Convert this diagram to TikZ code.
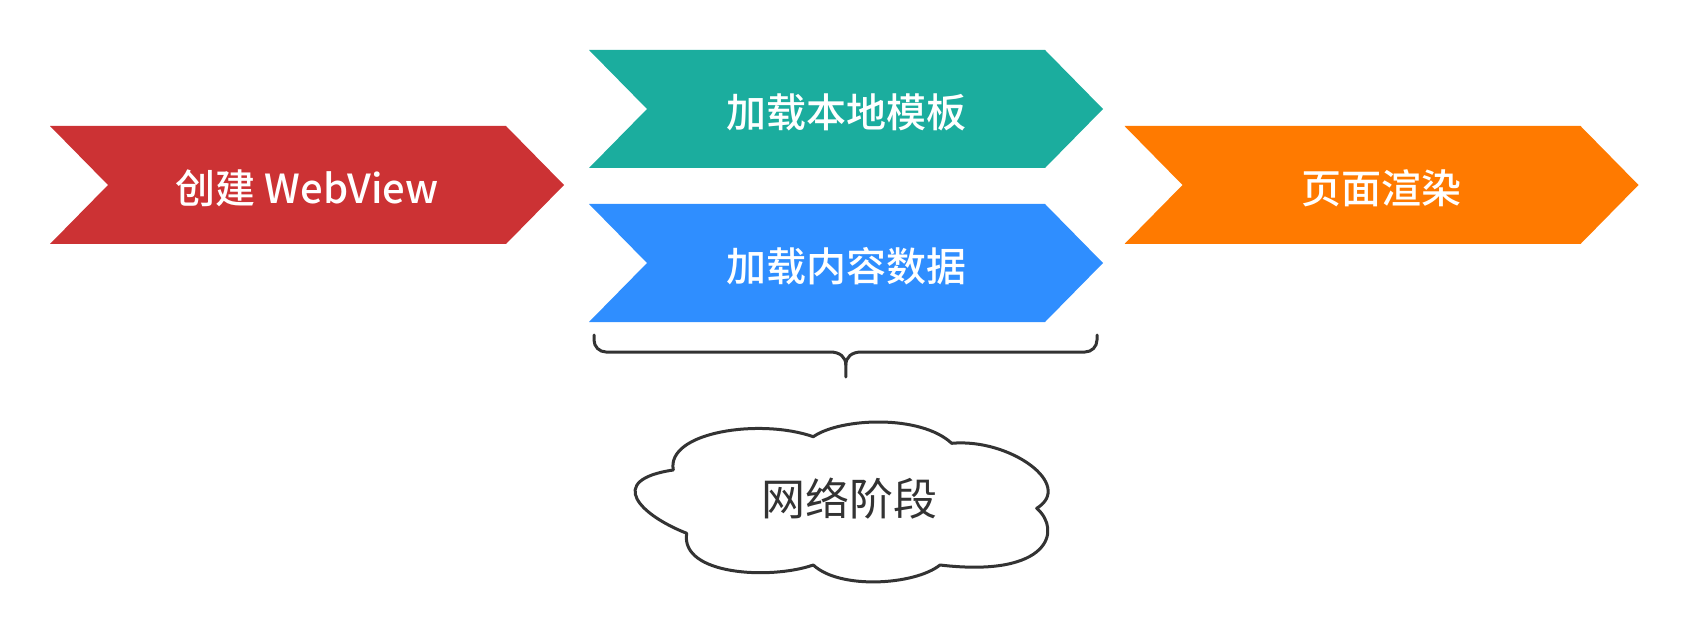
\documentclass[tikz,border=0pt]{standalone}
\usepackage{fontspec}
\newfontfamily\cjk{Noto Sans CJK SC}
\newfontfamily\cjkmed{Noto Sans CJK SC Medium}
\definecolor{cred}{HTML}{CC3234}
\definecolor{cteal}{HTML}{1BAD9E}
\definecolor{cblue}{HTML}{2F8EFF}
\definecolor{corange}{HTML}{FF7A00}
\definecolor{cdark}{HTML}{333333}
\tikzset{
  chevtext/.style={text=white, font=\cjkmed\fontsize{40}{48}\selectfont, inner sep=0pt},
  outline/.style={draw=cdark, line width=3pt, line join=round, line cap=round},
  cloudtext/.style={text=cdark, font=\cjk\fontsize{44}{52}\selectfont, inner sep=0pt}
}
\newcommand{\chevron}[3]{%
  \fill[#3] (#1,#2) -- ++(456,0) -- ++(58,59) -- ++(-58,59) -- ++(-456,0) -- ++(58,-59) -- cycle;}
\begin{document}
\begin{tikzpicture}[x=1pt,y=-1pt]
\useasboundingbox (0,0) rectangle (1690,631);
% chevrons
\chevron{50}{126}{cred}
\chevron{589}{50}{cteal}
\chevron{589}{204}{cblue}
\chevron{1124.5}{126}{corange}
\node[chevtext] (create) at (307,188) {创建 WebView};
\node[chevtext] (tpl) at (846,112) {加载本地模板};
\node[chevtext] (data) at (846,266) {加载内容数据};
\node[chevtext] (render) at (1381.5,188) {页面渲染};
% brace
\draw[outline] (594,335) -- (594,340) arc[start angle=180,end angle=90,radius=12] -- (830,352)
  .. controls (840,352) and (845.8,357) .. (845.8,365) -- (845.8,377);
\draw[outline] (1097,335) -- (1097,340) arc[start angle=0,end angle=90,radius=12] -- (861.6,352)
  .. controls (851.6,352) and (845.8,357) .. (845.8,365);
% cloud
\draw[outline, fill=white] (673.3,470)
  .. controls (666,432) and (760,418) .. (813.3,436.7)
  .. controls (840,418) and (920,414) .. (951.7,443.3)
  .. controls (1010,438) and (1075,485) .. (1036.7,508.3)
  .. controls (1062,530) and (1050,578) .. (940,565)
  .. controls (915,585) and (840,590) .. (813.3,565)
  .. controls (770,580) and (680,575) .. (686.7,533.3)
  .. controls (640,515) and (605,480) .. cycle;
\node[cloudtext] (net) at (849,499) {网络阶段};
\end{tikzpicture}
\end{document}
